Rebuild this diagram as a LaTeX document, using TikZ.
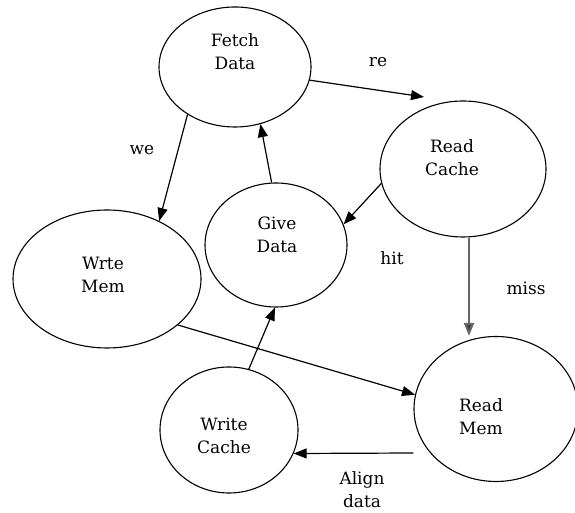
\documentclass[tikz,border=0pt]{standalone}
\usepackage{fontspec}
\setmainfont{DejaVu Serif}
\usetikzlibrary{shapes.geometric,arrows.meta}
\begin{document}
\begin{tikzpicture}[x=1pt,y=1pt,
  state/.style={draw,ellipse,line width=1.1pt,inner sep=0pt},
  lbl/.style={font=\fontsize{17}{23}\selectfont,align=center,inner sep=0pt},
  conn/.style={line width=1.2pt,-{Triangle[length=13pt,width=10pt]}},
  missconn/.style={line width=2pt,draw=black!60,-{Triangle[length=13pt,width=10pt,fill=black!75]}}]
\useasboundingbox (0,0) rectangle (575,513);
\begin{scope}
\clip (0,0) rectangle (575,513);
% ellipses
\node[state,minimum width=152pt,minimum height=120pt] (fetch) at (235,446) {};
\node[state,minimum width=166pt,minimum height=136pt] (rcache) at (463,344) {};
\node[state,minimum width=142pt,minimum height=124pt] (give) at (276,268) {};
\node[state,minimum width=188pt,minimum height=138pt] (wmem) at (107,234) {};
\node[state,minimum width=164pt,minimum height=145pt] (rmem) at (496,104) {};
\node[state,minimum width=138pt,minimum height=126pt] (wcache) at (229,83) {};
\end{scope}
% texts
\node[lbl] (fetchT) at (235,461) {Fetch\\Data};
\node[lbl] (rcacheT) at (452,355) {Read\\Cache};
\node[lbl] (giveT) at (277,278) {Give\\Data};
\node[lbl] (wmemT) at (103,238) {Wrte\\Mem};
\node[lbl] (rmemT) at (481,96) {Read\\Mem};
\node[lbl] (wcacheT) at (224,77) {Write\\Cache};
% edge labels
\node[lbl] (reL) at (378,451) {re};
\node[lbl] (weL) at (142,363) {we};
\node[lbl] (hitL) at (392,255) {hit};
\node[lbl] (missL) at (526,225) {miss};
\node[lbl] (alignL) at (362,23) {Align\\data};
% connectors
\coordinate (reTip) at (424,416);
\draw[conn] (fetch.-10) -- (reTip);
\draw[conn] (fetch.225) -- (wmem.48);
\draw[conn] (give.94) -- (fetch.-66);
\draw[conn] (rcache.190) -- (give.17);
\draw[missconn] ([xshift=6pt]rcache.south) -- ([xshift=6pt]rcache.south |- rmem.north);
\draw[conn] (wmem.-33) -- (rmem.170);
\draw[conn] (wcache.72) -- (give.-91);
\draw[conn] ([yshift=-44pt]rmem.west) -- (wcache.-20);
\end{tikzpicture}
\end{document}
